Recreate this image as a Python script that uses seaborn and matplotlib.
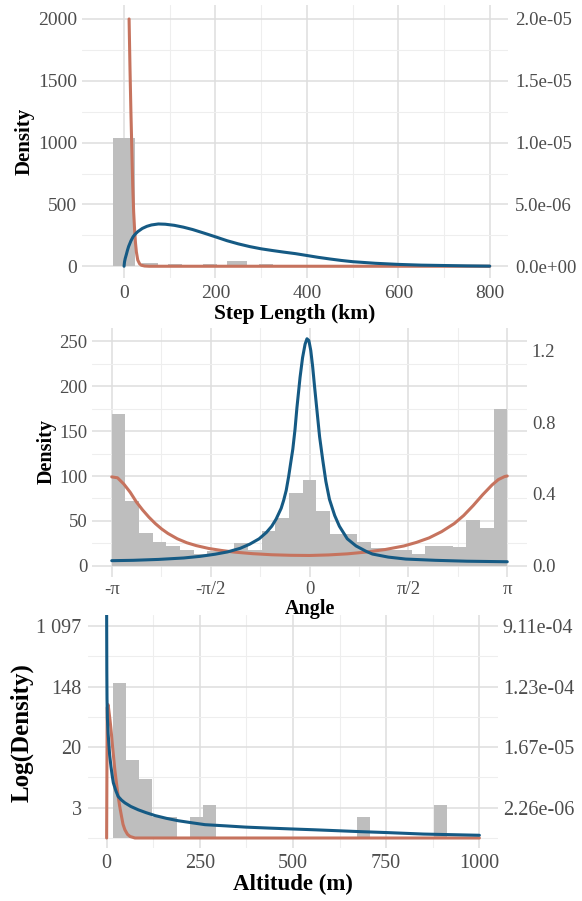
import numpy as np
import pandas as pd
import matplotlib
matplotlib.use("Agg")
import matplotlib.pyplot as plt
import seaborn as sns

# ---------------- data ----------------
# Panel 1: step length (km)
step_bin_edges = [-25, 25, 40, 74, 96, 127, 172, 203, 226, 270, 296, 325]
step_bin_counts = [1040, 0, 25, 0, 20, 0, 20, 0, 45, 0, 20]
step_blue_x = [0, 1, 2.5, 5, 7.5, 10, 15, 20, 25, 30, 40, 50, 60, 75, 90, 110,
               130, 150, 175, 200, 225, 250, 275, 300, 325, 350, 375, 400, 425,
               450, 475, 500, 550, 600, 650, 700, 750, 800]
step_blue_y = [0, 0.35e-6, 0.62e-6, 0.95e-6, 1.30e-6, 1.60e-6, 2.05e-6, 2.40e-6,
               2.62e-6, 2.80e-6, 3.06e-6, 3.23e-6, 3.34e-6, 3.42e-6, 3.40e-6,
               3.31e-6, 3.16e-6, 2.97e-6, 2.68e-6, 2.38e-6, 2.07e-6, 1.81e-6,
               1.59e-6, 1.41e-6, 1.27e-6, 1.14e-6, 1.02e-6, 0.87e-6, 0.72e-6,
               0.59e-6, 0.47e-6, 0.37e-6, 0.24e-6, 0.15e-6, 0.09e-6, 0.06e-6,
               0.03e-6, 0.01e-6]
step_red_x = [11, 13, 15, 17, 19, 21, 23, 25, 27, 30, 34, 38, 45, 55, 800]
step_red_y = [2.0e-5, 1.6e-5, 1.25e-5, 0.95e-5, 0.65e-5, 0.44e-5, 0.30e-5,
              0.19e-5, 0.115e-5, 0.05e-5, 0.02e-5, 0.008e-5, 0.002e-5, 0, 0]
step_x_ticks = [0, 200, 400, 600, 800]
step_left_ticks = [0, 500, 1000, 1500, 2000]
step_right_ticks = [0, 5e-6, 1e-5, 1.5e-5, 2e-5]
step_right_labels = ["0.0e+00", "5.0e-06", "1.0e-05", "1.5e-05", "2.0e-05"]

# Panel 2: turning angle (rad), 29 bins from -pi to pi
angle_counts = [169, 72, 36, 26, 22, 18, 13, 16, 17, 25, 18, 39, 53, 81, 95,
                61, 35, 35, 26, 20, 18, 17, 13, 22, 22, 21, 51, 42, 175]
angle_blue_x = [-np.pi, -2.8, -2.4, -2.0, -1.74, -1.5, -1.3, -1.1, -0.95, -0.8,
                -0.686, -0.6, -0.53, -0.45, -0.41, -0.37, -0.33, -0.3, -0.265,
                -0.23, -0.2, -0.15, -0.11, -0.07, -0.04, -0.01, 0.02, 0.05,
                0.08, 0.12, 0.16, 0.21, 0.26, 0.317, 0.4, 0.475, 0.6, 0.74,
                0.9, 1.0, 1.25, 1.53, 2.0, 2.5, np.pi]
angle_blue_y = [0.028, 0.03, 0.035, 0.043, 0.052, 0.064, 0.077, 0.097, 0.12,
                0.15, 0.185, 0.22, 0.26, 0.32, 0.365, 0.42, 0.5, 0.57, 0.65,
                0.76, 0.88, 1.05, 1.16, 1.235, 1.265, 1.255, 1.2, 1.11, 1.0,
                0.86, 0.72, 0.59, 0.47, 0.37, 0.28, 0.22, 0.15, 0.11, 0.08,
                0.065, 0.048, 0.037, 0.03, 0.025, 0.022]
angle_red_x = [-np.pi, -3.05, -2.95, -2.85, -2.75, -2.65, -2.55, -2.45, -2.35,
               -2.25, -2.1, -1.95, -1.8, -1.6, -1.4, -1.2, -0.9, -0.6, -0.3,
               0.0, 0.3, 0.6, 0.9, 1.2, 1.5, 1.7, 1.9, 2.1, 2.3, 2.45, 2.6,
               2.75, 2.9, 3.0, 3.1, np.pi]
angle_red_y = [0.495, 0.49, 0.455, 0.41, 0.355, 0.31, 0.27, 0.235, 0.205,
               0.18, 0.15, 0.128, 0.112, 0.096, 0.085, 0.076, 0.067, 0.061,
               0.058, 0.057, 0.06, 0.066, 0.076, 0.09, 0.11, 0.13, 0.155, 0.19,
               0.235, 0.28, 0.335, 0.395, 0.45, 0.48, 0.497, 0.5]
angle_tick_labels = ["-π", "-π/2", "0", "π/2", "π"]
angle_left_ticks = [0, 50, 100, 150, 200, 250]
angle_right_ticks = [0.0, 0.4, 0.8, 1.2]
angle_right_labels = ["0.0", "0.4", "0.8", "1.2"]

# Panel 3: altitude (m), 30 bins of width 1000/29 centred on 0..1000
alt_bin_index = [1, 2, 3, 4, 5, 7, 8, 20, 26]
alt_counts = [166, 13, 7, 2, 2, 2, 3, 2, 3]
alt_blue_x = [0, 0.5, 1, 2, 4, 6, 8, 11.6, 15, 18, 25, 31, 40, 49, 65, 85, 105,
              130, 160, 192, 230, 264, 320, 372, 430, 493, 560, 620, 680, 750,
              850, 925, 1000]
alt_blue_logy = [7.5, 5.5, 4.6, 3.95, 3.45, 3.1, 2.75, 2.36, 2.05, 1.82, 1.55,
                 1.37, 1.25, 1.16, 1.04, 0.93, 0.84, 0.74, 0.65, 0.57, 0.5, 0.44,
                 0.4, 0.36, 0.33, 0.3, 0.27, 0.24, 0.21, 0.18, 0.13, 0.11, 0.09]
alt_red_x = [0, 1.5, 4, 9, 12, 15, 18, 22, 26, 31, 35, 40, 44, 49, 56, 63, 76,
             1000]
alt_red_logy = [0, 4.3, 4.4, 3.9, 3.55, 3.13, 2.75, 2.25, 1.85, 1.37, 1.05,
                0.71, 0.45, 0.27, 0.12, 0.05, 0, 0]
alt_x_ticks = [0, 250, 500, 750, 1000]
alt_left_ticks = [1, 3, 5, 7]
alt_left_labels = ["3", "20", "148", "1 097"]
alt_right_labels = ["2.26e-06", "1.67e-05", "1.23e-04", "9.11e-04"]

# ---------------- style ----------------
sns.set_style("white")
plt.rcParams['font.family'] = ['Liberation Serif', 'DejaVu Serif']
plt.rcParams['axes.unicode_minus'] = False

BAR = '#BEBEBE'
BLUE = '#155A84'
RED = '#C6735E'
TICK = '#4D4D4D'
GMAJ = '#DEDEDE'
GMIN = '#EEEEEE'
LW = 2.2

W, H = 582, 901
fig = plt.figure(figsize=(W / 100, H / 100), dpi=100)


def rect(l, r, t, b):
    return [l / W, 1 - b / H, (r - l) / W, (b - t) / H]


def style(ax, fs, xpad, ypad):
    ax.grid(which='major', color=GMAJ, lw=1.1)
    ax.grid(which='minor', color=GMIN, lw=0.8)
    ax.set_axisbelow(True)
    for s in ax.spines.values():
        s.set_visible(False)
    ax.tick_params(which='both', length=0, colors=TICK, labelsize=fs)
    ax.tick_params(axis='x', pad=xpad)
    ax.tick_params(axis='y', pad=ypad)
    ax.set_xlabel('')
    ax.set_ylabel('')


def style_twin(ax2, fs, pad):
    ax2.grid(False)
    for s in ax2.spines.values():
        s.set_visible(False)
    ax2.tick_params(which='both', length=0, colors=TICK, labelsize=fs, pad=pad)
    ax2.set_ylabel('')
    ax2.set_xlabel('')


def label(x, y, s, fs, rot=0, va='baseline'):
    fig.text(x / W, 1 - y / H, s, ha='center', va=va, rotation=rot,
             fontsize=fs, fontweight='bold', color='black')


# ---------------- panel 1 ----------------
ax1 = fig.add_axes(rect(82, 508, 5, 278))
centers1 = [(a + b) / 2 for a, b in zip(step_bin_edges[:-1], step_bin_edges[1:])]
sns.histplot(x=centers1, weights=step_bin_counts, bins=step_bin_edges, ax=ax1,
             color=BAR, alpha=1, linewidth=0)
ylim1 = (-95, 2113)
ax1.set_xlim(-92, 840)
ax1.set_ylim(*ylim1)
ax1.set_xticks(step_x_ticks)
ax1.set_xticks([100, 300, 500, 700], minor=True)
ax1.set_yticks(step_left_ticks)
ax1.set_yticks([250, 750, 1250, 1750], minor=True)
style(ax1, 14, 5, 3.5)
ax1b = ax1.twinx()
sns.lineplot(x=step_red_x, y=step_red_y, ax=ax1b, color=RED, lw=LW,
             estimator=None, sort=False)
sns.lineplot(x=step_blue_x, y=step_blue_y, ax=ax1b, color=BLUE, lw=LW,
             estimator=None, sort=False)
ax1b.set_ylim(ylim1[0] * 1e-8, ylim1[1] * 1e-8)
ax1b.set_yticks(step_right_ticks, labels=step_right_labels)
style_twin(ax1b, 13.5, 5)
ax1.set_xlim(-92, 840)

# ---------------- panel 2 ----------------
ax2 = fig.add_axes(rect(92, 527, 328, 577))
nb = len(angle_counts)
edges2 = [float(v) for v in -np.pi + 2 * np.pi * np.arange(nb + 1) / nb]
centers2 = [(a + b) / 2 for a, b in zip(edges2[:-1], edges2[1:])]
sns.histplot(x=centers2, weights=angle_counts, bins=edges2, ax=ax2,
             color=BAR, alpha=1, linewidth=0)
ylim2 = (-12.6, 265)
ax2.set_xlim(-np.pi - 0.314, np.pi + 0.314)
ax2.set_ylim(*ylim2)
ax2.set_xticks([-np.pi, -np.pi / 2, 0, np.pi / 2, np.pi], labels=angle_tick_labels)
ax2.set_xticks([-3 * np.pi / 4, -np.pi / 4, np.pi / 4, 3 * np.pi / 4], minor=True)
ax2.set_yticks(angle_left_ticks)
ax2.set_yticks([25, 75, 125, 175, 225], minor=True)
style(ax2, 13.5, 3, 3.5)
ax2b = ax2.twinx()
sns.lineplot(x=angle_red_x, y=angle_red_y, ax=ax2b, color=RED, lw=LW,
             estimator=None, sort=False)
sns.lineplot(x=angle_blue_x, y=angle_blue_y, ax=ax2b, color=BLUE, lw=LW,
             estimator=None, sort=False)
ax2b.set_ylim(ylim2[0] / 200, ylim2[1] / 200)
ax2b.set_yticks(angle_right_ticks, labels=angle_right_labels)
style_twin(ax2b, 13.5, 3.5)
ax2.set_xlim(-np.pi - 0.314, np.pi + 0.314)

# ---------------- panel 3 ----------------
ax3 = fig.add_axes(rect(88, 498, 615, 848))
bw = 1000 / 29
edges3 = [float(v) for v in -bw / 2 + bw * np.arange(31)]
centers3 = [i * bw for i in alt_bin_index]
sns.histplot(x=centers3, weights=list(np.log(alt_counts)), bins=edges3, ax=ax3,
             color=BAR, alpha=1, linewidth=0)
sns.lineplot(x=alt_red_x, y=alt_red_logy, ax=ax3, color=RED, lw=LW,
             estimator=None, sort=False)
sns.lineplot(x=alt_blue_x, y=alt_blue_logy, ax=ax3, color=BLUE, lw=LW,
             estimator=None, sort=False)
ylim3 = (-0.33, 7.36)
ax3.set_xlim(-50, 1050)
ax3.set_ylim(*ylim3)
ax3.set_xticks(alt_x_ticks)
ax3.set_xticks([125, 375, 625, 875], minor=True)
ax3.set_yticks(alt_left_ticks, labels=alt_left_labels)
ax3.set_yticks([0, 2, 4, 6], minor=True)
style(ax3, 14.5, 4, 4.5)
ax3b = ax3.twinx()
ax3b.set_ylim(*ylim3)
ax3b.set_yticks(alt_left_ticks, labels=alt_right_labels)
style_twin(ax3b, 14.5, 3.5)

# ---------------- axis titles ----------------
label(295, 319, "Step Length (km)", 15.5)
label(310, 614, "Angle", 14.5)
label(293, 890, "Altitude (m)", 16.5)
label(25, 141, "Density", 15, rot=90, va='center')
label(47, 452, "Density", 14.5, rot=90, va='center')
label(22, 733, "Log(Density)", 18, rot=90, va='center')

fig.savefig("out.png", dpi=100)
